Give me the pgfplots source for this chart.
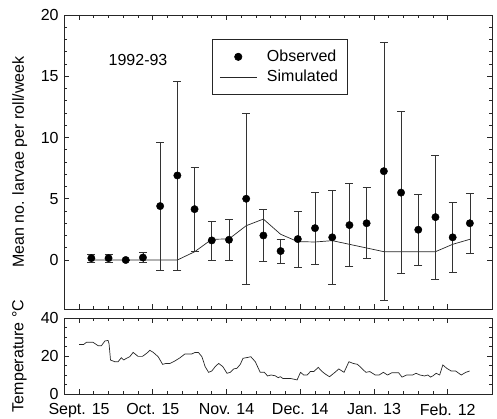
\documentclass[border=0pt]{standalone}
\usepackage{fontspec}
\setmainfont{Liberation Sans}
\usepackage{pgfplots}
\pgfplotsset{compat=1.18}
\usepackage{pgfplotstable}

\pgfplotstableread{
x y e
5 0.15 0.35
12 0.15 0.35
19 0.0 0.0
26 0.2 0.4
33 4.4 5.2
40 6.9 7.7
47 4.15 3.45
54 1.6 1.6
61 1.65 1.65
68 5.0 7.0
75 2.0 2.1
82 0.73 1.0
89 1.71 2.28
96 2.6 2.95
103 1.85 3.8
110 2.85 3.4
117 3.0 2.9
124 7.25 10.5
131 5.5 6.6
138 2.47 2.9
145 3.5 5.05
152 1.85 2.85
159 3.0 2.42
}\obsdata

\pgfplotstableread{
x y
5 0
12 0
19 0
26 0
33 0
40 0
47 0.67
54 1.69
61 1.72
68 2.8
75 3.34
82 2.1
89 1.5
96 1.47
103 1.58
110 1.28
117 0.98
124 0.68
131 0.68
138 0.68
145 0.68
152 1.28
159 1.69
}\simdata

\pgfplotstableread{
x y
0 26.1
1.9 26.1
3 27.2
5.7 27.2
7.8 25.4
9.1 25.4
10.5 27.9
11.8 28.2
12.2 26.5
12.8 17.9
14.5 17.0
15.9 17.0
17.2 19.1
18.2 17.9
19.3 18.8
20.6 19.6
22 21.9
24 19.8
25.8 19.8
27.5 21.4
28.8 23.0
30.2 21.9
32.2 19.6
34 15.6
35.4 16.1
37 16.1
39 17.4
41.1 19.1
43.1 21.1
45.9 21.1
47.2 21.9
48.6 21.8
50 19.6
51.3 14.4
52.7 11.4
54 12.1
55.4 14.4
56.8 16.1
58.5 14.4
60.2 10.9
61.5 11.4
62.9 13.2
64.2 13.5
65.6 15.6
66.7 18.8
68 19.1
69.9 19.6
71.7 17.0
73.7 11.4
75.4 11.4
76.7 9.5
78.1 10.0
79.8 9.6
81 8.6
81.9 9.1
82.9 8.2
86 8.2
88.7 7.4
90.1 11.4
91.4 10.0
92.8 10.0
94.1 11.8
95.5 11.8
97.3 14.0
98.9 11.8
100.3 10.4
101.9 9.1
104.1 11.4
105.7 13.2
107.8 11.4
109.8 17.0
111.5 16.1
113.3 15.6
115 13.5
116.7 11.4
118.3 11.8
120.5 10.0
122.1 10.0
123.8 11.4
125.5 10.0
127.3 11.2
130 11.2
131.4 8.9
133.3 10.0
135.7 10.0
137.1 10.9
138.7 10.0
140.5 9.5
141.9 10.0
143 8.9
143.9 9.5
145.3 10.9
146.7 10.0
148 15.3
149.6 13.5
151.4 12.1
153.2 12.1
155.5 10.0
157.3 11.4
158.9 12.1
}\tempdata

\newcommand{\chartfont}{\fontsize{16bp}{19bp}\selectfont}

\pgfplotsset{
  simleg/.style={legend image code/.code={\draw[##1] (0bp,0bp) -- (36.7bp,0bp);}},
  obsleg/.style={legend image code/.code={\draw[##1] plot coordinates {(18.35bp,0bp)};}},
  common/.style={
    scale only axis, width=427.7bp,
    xmin=-6, xmax=168,
    xtick={0,30,60,90,120,150}, minor x tick num=4,
    axis line style={line width=0.6pt, black!85},
    major tick length=5bp, minor tick length=3bp,
    tick style={black!85, line width=0.6pt},
    tick label style={font=\chartfont},
    yticklabel style={inner sep=1.5bp, xshift=-4bp},
    label style={font=\chartfont},
    /pgf/number format/assume math mode=true,
  }
}

\begin{document}
\begin{tikzpicture}
\begin{axis}[common, name=top, at={(0,0)}, anchor=south west,
  height=294bp, ymin=-4, ymax=20,
  ytick={0,5,10,15,20}, minor y tick num=4,
  xticklabels={,,,,,},
  ylabel={Mean no. larvae per roll/week},
  ylabel style={at={(axis description cs:-0.104,0.5)}, anchor=center},
  reverse legend,
  legend cell align=left,
  legend style={at={(axis cs:54.2,18.0)}, anchor=north west,
    draw=black!85, line width=0.6pt, font=\chartfont,
    inner xsep=7bp, inner ysep=8.5bp, row sep=3bp,
    /tikz/every odd column/.append style={column sep=8bp}},
]
\addplot[black!85, line width=0.7pt, simleg]
  table[x=x, y=y]{\simdata};
\addlegendentry{Simulated}
\addplot[only marks, mark=*, mark size=3.7bp, black, obsleg,
  error bars/.cd, y dir=both, y explicit,
  error bar style={line width=0.6pt, black!80},
  error mark options={rotate=90, mark size=4bp, line width=0.6pt, black!80}]
  table[x=x, y=y, y error=e]{\obsdata};
\addlegendentry{Observed}
\node[font=\chartfont] at (axis cs:24,16.3) {1992-93};
\end{axis}
\begin{axis}[common, name=bot, at={(0,-9bp)}, anchor=north west,
  height=76bp, ymin=0, ymax=40,
  ytick={0,20,40}, minor y tick num=3,
  xticklabels={Sept. 15, Oct. 15, Nov. 14, Dec. 14, Jan. 13, Feb. 12},
  xticklabel style={inner sep=1bp, yshift=-8.5bp},
  ylabel={Temperature °C},
  ylabel style={at={(axis description cs:-0.105,0.5)}, anchor=center},
]
\addplot[black!85, line width=0.7pt] table[x=x, y=y]{\tempdata};
\end{axis}
\pgfresetboundingbox
\path[use as bounding box] (-64.3bp,-110bp) rectangle (432.7bp,309bp);
\end{tikzpicture}
\end{document}
